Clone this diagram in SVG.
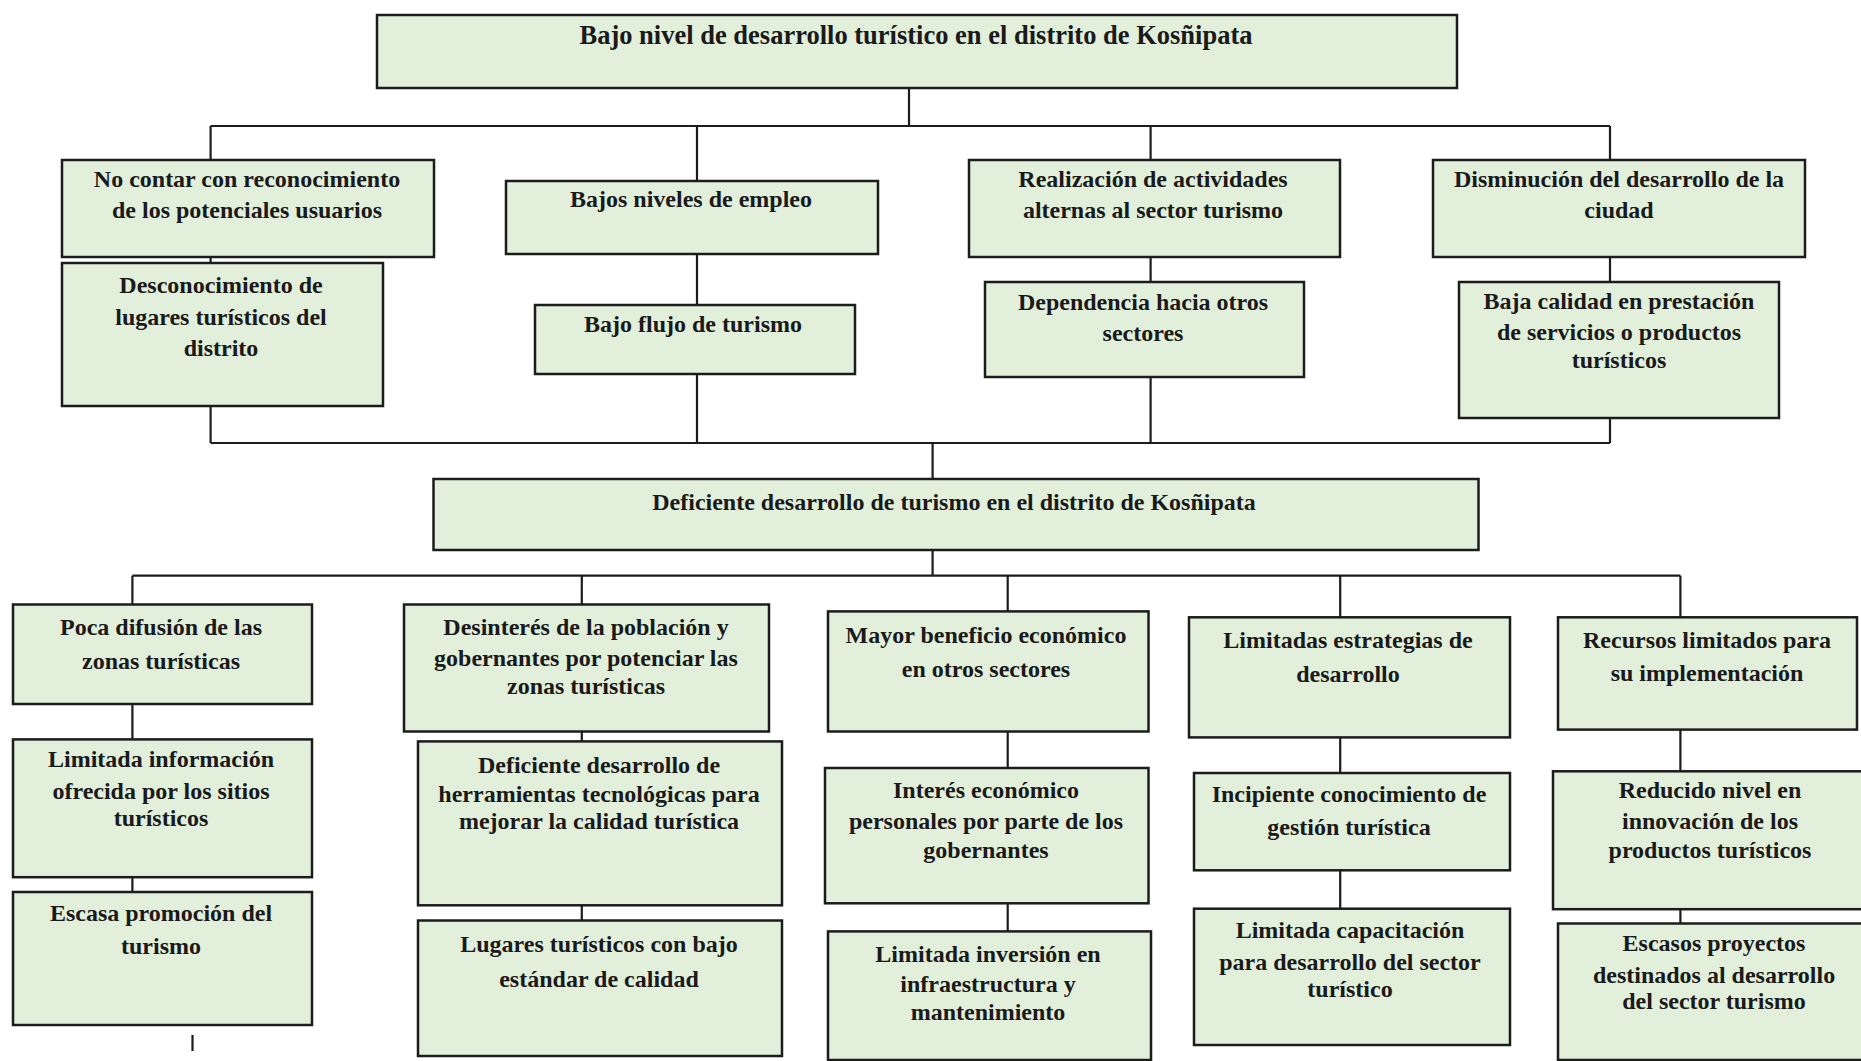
<svg xmlns="http://www.w3.org/2000/svg" width="1861" height="1061" viewBox="0 0 1861 1061">
<style>
.box{fill:#E2EFDA;stroke:#1c1c1c;stroke-width:2.5}
.ln{fill:none;stroke:#1c1c1c;stroke-width:2.2}
text{font-family:"Liberation Serif","Times New Roman",serif;font-weight:bold;font-size:24px;fill:#1a1a1a;text-anchor:middle}
.t{font-size:26.5px}
</style>
<rect width="1861" height="1061" fill="#ffffff"/>
<g id="connectors">
<path class="ln" d="M909,88V126M210.6,126H1610M210.6,126V160M697,126V181M1150.6,126V160M1610,126V160"/>
<path class="ln" d="M210.6,257V263M697,254V305M1150.6,257V282M1610,257V282"/>
<path class="ln" d="M210.6,406V443M697,374V443M1150.6,377V443M1610,418V443M210.6,443H1610M932.6,443V479"/>
<path class="ln" d="M932.6,550V575.7M132.4,575.7H1680.4M132.4,575.7V604.5M581.8,575.7V604.5M1007.7,575.7V611.4M1340.2,575.7V617.3M1680.4,575.7V617.3"/>
<path class="ln" d="M132.4,704V739.4M132.4,877.2V892M581.8,731.5V741.4M581.8,905.3V920.5M1007.7,731.5V768M1007.7,903.3V931.4M1340.2,737.4V773M1340.2,870.3V908.7M1680.4,729.6V771.3M1680.4,909.2V923.5"/>
<path class="ln" d="M192.5,1035V1051"/>
</g>
<g id="n-top"><rect class="box" x="377" y="15" width="1080" height="73"/><text class="t" x="916" y="43.5">Bajo nivel de desarrollo turístico en el distrito de Kosñipata</text></g>
<g id="n-a1"><rect class="box" x="62" y="160" width="372" height="97"/><text x="247" y="187">No contar con reconocimiento</text><text x="247" y="218">de los potenciales usuarios</text></g>
<g id="n-a2"><rect class="box" x="62" y="263" width="321" height="143"/><text x="221" y="293">Desconocimiento de</text><text x="221" y="325">lugares turísticos del</text><text x="221" y="356">distrito</text></g>
<g id="n-b1"><rect class="box" x="506" y="181" width="372" height="73"/><text x="691" y="207">Bajos niveles de empleo</text></g>
<g id="n-b2"><rect class="box" x="535" y="305" width="320" height="69"/><text x="693" y="332">Bajo flujo de turismo</text></g>
<g id="n-c1"><rect class="box" x="969" y="160" width="371" height="97"/><text x="1153" y="187">Realización de actividades</text><text x="1153" y="218">alternas al sector turismo</text></g>
<g id="n-c2"><rect class="box" x="985" y="282" width="319" height="95"/><text x="1143" y="310">Dependencia hacia otros</text><text x="1143" y="341">sectores</text></g>
<g id="n-d1"><rect class="box" x="1433" y="160" width="372" height="97"/><text x="1619" y="187">Disminución del desarrollo de la</text><text x="1619" y="218">ciudad</text></g>
<g id="n-d2"><rect class="box" x="1459" y="282" width="320" height="136"/><text x="1619" y="309">Baja calidad en prestación</text><text x="1619" y="340">de servicios o productos</text><text x="1619" y="368">turísticos</text></g>
<g id="n-mid"><rect class="box" x="433.5" y="479" width="1045" height="71"/><text x="954" y="510">Deficiente desarrollo de turismo en el distrito de Kosñipata</text></g>
<g id="n-e1"><rect class="box" x="13" y="604.5" width="299" height="99.5"/><text x="161" y="635">Poca difusión de las</text><text x="161" y="668.5">zonas turísticas</text></g>
<g id="n-e2"><rect class="box" x="13" y="739.4" width="299" height="137.8"/><text x="161" y="767">Limitada información</text><text x="161" y="798.5">ofrecida por los sitios</text><text x="161" y="826">turísticos</text></g>
<g id="n-e3"><rect class="box" x="13" y="892" width="299" height="133"/><text x="161" y="920.5">Escasa promoción del</text><text x="161" y="954">turismo</text></g>
<g id="n-f1"><rect class="box" x="404" y="604.5" width="365" height="127"/><text x="586" y="635">Desinterés de la población y</text><text x="586" y="665.6">gobernantes por potenciar las</text><text x="586" y="694">zonas turísticas</text></g>
<g id="n-f2"><rect class="box" x="418" y="741.4" width="364" height="163.9"/><text x="599" y="773">Deficiente desarrollo de</text><text x="599" y="802.4">herramientas tecnológicas para</text><text x="599" y="829">mejorar la calidad turística</text></g>
<g id="n-f3"><rect class="box" x="418" y="920.5" width="364" height="135.5"/><text x="599" y="952">Lugares turísticos con bajo</text><text x="599" y="986.5">estándar de calidad</text></g>
<g id="n-g1"><rect class="box" x="828" y="611.4" width="320.5" height="120.1"/><text x="986" y="643">Mayor beneficio económico</text><text x="986" y="677.4">en otros sectores</text></g>
<g id="n-g2"><rect class="box" x="825" y="768" width="323.5" height="135.3"/><text x="986" y="797.5">Interés económico</text><text x="986" y="829">personales por parte de los</text><text x="986" y="857.5">gobernantes</text></g>
<g id="n-g3"><rect class="box" x="828" y="931.4" width="323" height="128.6"/><text x="988" y="962">Limitada inversión en</text><text x="988" y="992.4">infraestructura y</text><text x="988" y="1020">mantenimiento</text></g>
<g id="n-h1"><rect class="box" x="1189" y="617.3" width="321" height="120.1"/><text x="1348" y="648">Limitadas estrategias de</text><text x="1348" y="682">desarrollo</text></g>
<g id="n-h2"><rect class="box" x="1194" y="773" width="316" height="97.3"/><text x="1349" y="802.4">Incipiente conocimiento de</text><text x="1349" y="835">gestión turística</text></g>
<g id="n-h3"><rect class="box" x="1194" y="908.7" width="316" height="136.3"/><text x="1350" y="938">Limitada capacitación</text><text x="1350" y="970">para desarrollo del sector</text><text x="1350" y="997.3">turístico</text></g>
<g id="n-i1"><rect class="box" x="1558" y="617.3" width="299" height="112.3"/><text x="1707" y="648">Recursos limitados para</text><text x="1707" y="681">su implementación</text></g>
<g id="n-i2"><rect class="box" x="1553" y="771.3" width="314" height="137.9"/><text x="1710" y="797.5">Reducido nivel en</text><text x="1710" y="829">innovación de los</text><text x="1710" y="857.5">productos turísticos</text></g>
<g id="n-i3"><rect class="box" x="1558" y="923.5" width="312" height="136.5"/><text x="1714" y="951">Escasos proyectos</text><text x="1714" y="982.6">destinados al desarrollo</text><text x="1714" y="1009">del sector turismo</text></g>
</svg>
